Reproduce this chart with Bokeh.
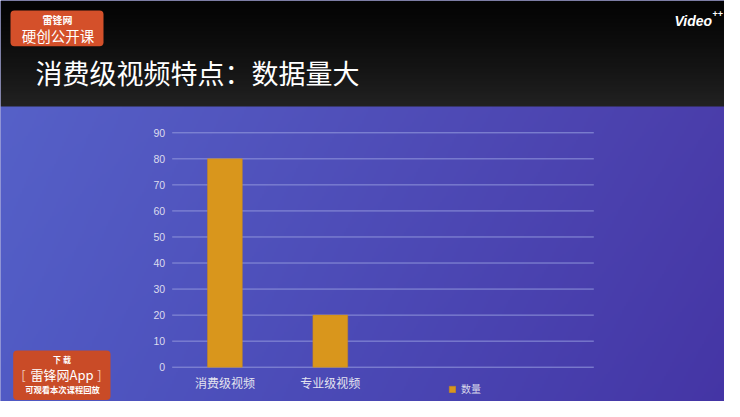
import numpy as np
from bokeh.plotting import figure
from bokeh.models import (Range1d, LinearAxis, FixedTicker, BoxAnnotation, Label,
                          Legend, LegendItem)
from bokeh.embed import file_html
from bokeh.resources import INLINE

# ---------------- data ----------------
categories = ["消费级视频", "专业级视频"]
counts = [80, 20]
series_name = "数量"
y_ticks = [0, 10, 20, 30, 40, 50, 60, 70, 80, 90]
n_slots = 4
slide_title = "消费级视频特点：数据量大"

# ---------------- layout (reference pixel coordinates) ----------------
REF_W, REF_H = 740, 417
W, H = 724, 401                       # canvas shows reference x 0..724, y 0..401
PLOT_L, PLOT_R = 171.7, 593.3        # chart plot-area left/right (ref px)
Y0_PX, YTOP_PX = 366.7, 132.3        # value 0 and value 90 (ref px)
HEADER_H = 106

ux = (PLOT_R - PLOT_L) / n_slots
uy = (Y0_PX - YTOP_PX) / (y_ticks[-1] - y_ticks[0])
x_start = -0.5 + (0 - PLOT_L) / ux
x_end = -0.5 + (W - PLOT_L) / ux
y_start = (Y0_PX - H) / uy
y_end = (Y0_PX - 0) / uy

p = figure(width=W, height=H, output_backend="svg", toolbar_location=None,
           x_range=Range1d(x_start, x_end), y_range=Range1d(y_start, y_end),
           x_axis_type=None, y_axis_type=None, min_border=0,
           background_fill_color="#4d50b8", border_fill_color="#4d50b8",
           outline_line_color=None)
p.xgrid.visible = False
p.ygrid.visible = False

# pixel-space ranges for the slide decoration (y measured upward from y=H)
p.extra_x_ranges = {"px": Range1d(0, W)}
p.extra_y_ranges = {"px": Range1d(0, H)}


def py(Y):
    return H - Y


# ---------------- background ----------------
bw, bh = 362, 201
xs = (np.arange(bw) + 0.5) * 2.0
Ys = 402 - (np.arange(bh) + 0.5) * 2.0   # row 0 at bottom
XX, YY = np.meshgrid(xs, Ys)
tx = XX / REF_W
ty = np.clip((YY - HEADER_H) / (REF_H - HEADER_H), 0, 1)
TL = np.array([86, 97, 200.0]); TR = np.array([74, 61, 170.0])
BL = np.array([80, 90, 196.0]); BR = np.array([68, 52, 164.0])
rgb = ((1 - tx)[..., None] * (1 - ty)[..., None] * TL + tx[..., None] * (1 - ty)[..., None] * TR
       + (1 - tx)[..., None] * ty[..., None] * BL + tx[..., None] * ty[..., None] * BR)
hg = np.clip(YY / HEADER_H, 0, 1)
head = 4 + 30 * hg ** 1.3
is_head = YY < HEADER_H
for c in range(3):
    rgb[..., c] = np.where(is_head, head, rgb[..., c])
img = np.empty((bh, bw), dtype=np.uint32)
view = img.view(dtype=np.uint8).reshape((bh, bw, 4))
view[..., 0] = rgb[..., 0].astype(np.uint8)
view[..., 1] = rgb[..., 1].astype(np.uint8)
view[..., 2] = rgb[..., 2].astype(np.uint8)
view[..., 3] = 255
p.image_rgba(image=[img], x=0, y=-1, dw=2 * bw, dh=2 * bh, x_range_name="px", y_range_name="px")

# ---------------- chart ----------------
x_pos = list(range(len(categories)))
p.segment(x0=[-0.5] * len(y_ticks), x1=[n_slots - 0.5] * len(y_ticks), y0=y_ticks, y1=y_ticks,
          line_color="#8e93da", line_width=1)
bars = p.vbar(x=x_pos, top=counts, width=0.33, fill_color="#d9961c", line_color="#c98a1a",
              line_width=0.5)

yaxis = LinearAxis(fixed_location=-0.5, ticker=FixedTicker(ticks=y_ticks))
yaxis.axis_line_color = None
yaxis.major_tick_line_color = None
yaxis.major_tick_out = 0
yaxis.minor_tick_line_color = None
yaxis.major_label_standoff = 7
yaxis.major_label_text_font = "Liberation Sans"
yaxis.major_label_text_font_size = "10.5px"
yaxis.major_label_text_color = "#dcdcee"
p.add_layout(yaxis, "left")

xaxis = LinearAxis(fixed_location=0, ticker=FixedTicker(ticks=x_pos))
xaxis.major_label_overrides = {i: c for i, c in zip(x_pos, categories)}
xaxis.axis_line_color = None
xaxis.major_tick_line_color = None
xaxis.major_tick_out = 0
xaxis.minor_tick_line_color = None
xaxis.major_label_standoff = 7
xaxis.major_label_text_font = "Noto Sans CJK SC"
xaxis.major_label_text_font_size = "12px"
xaxis.major_label_text_color = "#e4e4f0"
p.add_layout(xaxis, "below")

legend = Legend(items=[LegendItem(label=series_name, renderers=[bars])],
                location=(448, 5), padding=0, margin=0, spacing=0,
                glyph_width=8, glyph_height=8, label_standoff=5, label_height=10,
                label_text_font="Noto Sans CJK SC", label_text_font_size="10px",
                label_text_color="#d8d8ea", border_line_color=None,
                background_fill_alpha=0)
p.add_layout(legend)

# ---------------- slide decoration ----------------
p.add_layout(BoxAnnotation(left=10, right=103, top=py(10), bottom=py(45.7),
                           x_range_name="px", y_range_name="px", fill_color="#d4502a",
                           fill_alpha=1, line_color=None, border_radius=4))
p.add_layout(BoxAnnotation(left=12.7, right=110, top=py(350), bottom=py(399.5),
                           x_range_name="px", y_range_name="px", fill_color="#c94b27",
                           fill_alpha=1, line_color=None, border_radius=4))


def lab(x, y, text, size, font="Noto Sans CJK SC", style="normal", color="white", align="center"):
    p.add_layout(Label(x=x, y=py(y), text=text, x_range_name="px", y_range_name="px",
                       text_font=font, text_font_size=size, text_font_style=style,
                       text_color=color, text_align=align, text_baseline="middle"))


lab(57, 18.5, "雷锋网", "10px", style="bold")
lab(57.5, 34.5, "硬创公开课", "14.5px")
lab(61.5, 358.5, "下 载", "8px", style="bold")
lab(61.5, 373.5, "雷锋网App", "13px")
lab(23, 373.5, "[", "13px", color="#f0c8b8")
lab(99, 373.5, "]", "13px", color="#f0c8b8")
lab(62, 388.5, "可观看本次课程回放", "8.3px", style="bold")
lab(35, 72, slide_title, "27px", align="left")
lab(674, 20, "Video", "14px", font="Liberation Sans", style="bold italic", align="left")
lab(712, 13, "++", "9px", font="Liberation Sans", style="bold", align="left")

open("out.html", "w").write(file_html(p, INLINE))
